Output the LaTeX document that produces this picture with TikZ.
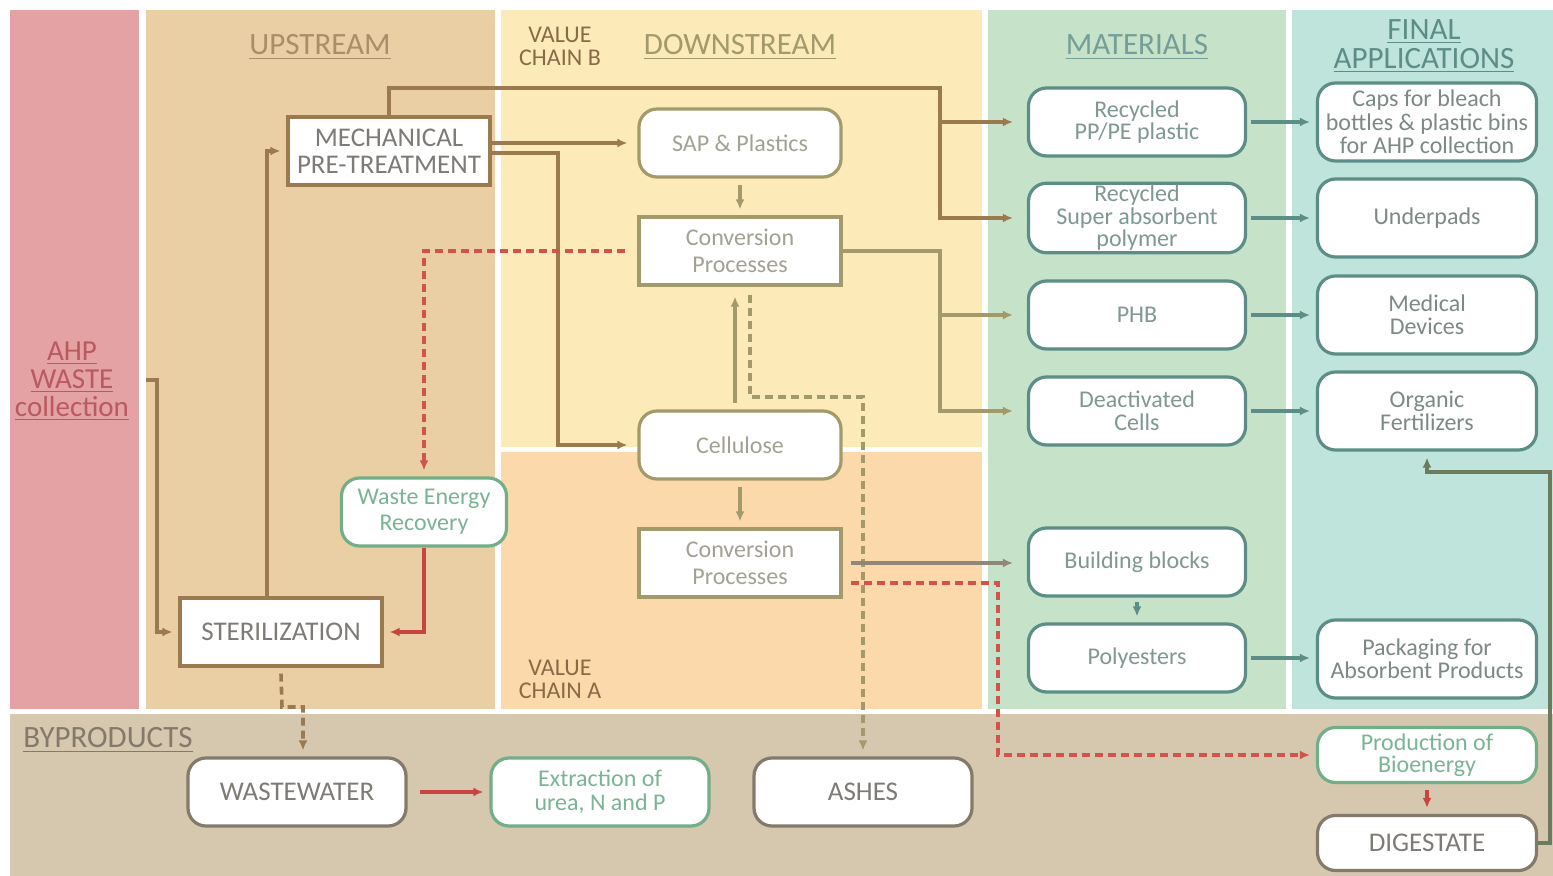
\documentclass[tikz,border=0pt]{standalone}
\usepackage{fontspec}
\setmainfont{Carlito}
\usetikzlibrary{arrows.meta}
\definecolor{ahpbg}{HTML}{E4A2A5}
\definecolor{upbg}{HTML}{E9CFA3}
\definecolor{vcbbg}{HTML}{FCEAB9}
\definecolor{vcabg}{HTML}{FBD9AA}
\definecolor{matbg}{HTML}{C6E3C9}
\definecolor{finbg}{HTML}{BFE4DC}
\definecolor{bybg}{HTML}{D6C7AF}
\definecolor{brownln}{HTML}{9B7A50}
\definecolor{oliveln}{HTML}{A39A6C}
\definecolor{tealln}{HTML}{5C8D86}
\definecolor{redln}{HTML}{C8453F}
\definecolor{reddsh}{HTML}{D2524C}
\definecolor{greyln}{HTML}{847A6B}
\definecolor{greenln}{HTML}{72AE88}
\definecolor{darkln}{HTML}{6C7A5E}
\definecolor{boxtxt}{HTML}{7E7A76}
\definecolor{downtxt}{HTML}{A3A193}
\definecolor{mattxt}{HTML}{7F9893}
\definecolor{fintxt}{HTML}{7D8986}
\definecolor{greentxt}{HTML}{79B495}
\definecolor{chaintxt}{HTML}{8A6A45}
\definecolor{ahptxt}{HTML}{B85A5E}
\newcommand{\linew}{1.8pt}
\newcommand{\capsfont}{\fontsize{13.5}{13.5}\selectfont}

\begin{document}
\begin{tikzpicture}[x=0.5pt, y=-0.5pt, >={Latex[length=5pt,width=4.5pt]},
  pbox/.style={draw, fill=white, line width=1.6pt, align=center, inner sep=1pt,
    font=\fontsize{12}{13}\selectfont},
  sqbox/.style={pbox, minimum width=101pt, minimum height=34pt},
  rbox/.style={pbox, rounded corners=9pt},
  matbox/.style={rbox, draw=tealln, text=mattxt, minimum width=108.5pt, minimum height=34pt},
  finbox/.style={rbox, draw=tealln, text=fintxt, minimum width=109.5pt, minimum height=39pt},
  greenbox/.style={rbox, draw=greenln, text=greentxt},
  title/.style={align=center, inner sep=0pt, font=\fontsize{15.5}{14.5}\selectfont},
  chain/.style={align=center, inner sep=0pt, text=chaintxt, font=\fontsize{12}{11.5}\selectfont},
  conn/.style={line width=\linew, ->, shorten >=3pt},
  dashln/.style={conn, dash pattern=on 4pt off 2.5pt}]
\useasboundingbox (0,0) rectangle (1553,876);
% bands
\fill[white] (0,0) rectangle (1553,876);
\fill[ahpbg] (10,10) rectangle (139,709);
\fill[upbg] (146,10) rectangle (495,709);
\fill[vcbbg] (501,10) rectangle (982,447);
\fill[vcabg] (501,452) rectangle (982,709);
\fill[matbg] (988,10) rectangle (1286,709);
\fill[finbg] (1292,10) rectangle (1553,709);
\fill[bybg] (10,714) rectangle (1553,876);

\node (tup) at (320,47) [title, text=brownln!85] {\underline{UPSTREAM}};
\node (tdown) at (740,47) [title, text=oliveln] {\underline{DOWNSTREAM}};
\node (tvcb) at (560,46) [chain] {VALUE\\CHAIN B};
\node (tvca) at (560,679) [chain] {VALUE\\CHAIN A};
\node (tmat) at (1137,47) [title, text=tealln!85] {\underline{MATERIALS}};
\node (tfin) at (1424,46) [title, text=tealln] {\underline{FINAL}\\\underline{APPLICATIONS}};
\node (tby) at (108,740) [title, text=greyln] {\underline{BYPRODUCTS}};
\node (ahp) at (72,381) [title, text=ahptxt, font=\fontsize{14.5}{14}\selectfont] {\underline{AHP}\\\underline{WASTE}\\\underline{collection}};

% upstream
\node (mech) at (389,151) [sqbox, draw=brownln, text=boxtxt, font=\capsfont] {MECHANICAL\\PRE-TREATMENT};
\node (steril) at (281,632) [sqbox, draw=brownln, text=boxtxt, font=\capsfont] {STERILIZATION};
\node (wer) at (424,512) [greenbox, minimum width=82.5pt, minimum height=34pt] {Waste Energy\\Recovery};

% downstream
\node (sap) at (740,143) [rbox, draw=oliveln, text=downtxt, minimum width=101pt, minimum height=34pt] {SAP \& Plastics};
\node (conv1) at (740,251) [sqbox, draw=oliveln, text=downtxt, font=\fontsize{12}{13.5}\selectfont] {Conversion\\Processes};
\node (cell) at (740,445) [rbox, draw=oliveln, text=downtxt, minimum width=101pt, minimum height=34pt] {Cellulose};
\node (conv2) at (740,563) [sqbox, draw=oliveln, text=downtxt, font=\fontsize{12}{13.5}\selectfont] {Conversion\\Processes};

% materials
\node (rpp) at (1137,122) [matbox, font=\fontsize{12}{11}\selectfont] {Recycled\\PP/PE plastic};
\node (rsap) at (1137,218) [matbox, font=\fontsize{12}{10.25}\selectfont] {Recycled\\Super absorbent\\polymer};
\node (phb) at (1137,315) [matbox] {PHB};
\node (deact) at (1137,411) [matbox, font=\fontsize{12}{11.5}\selectfont] {Deactivated\\Cells};
\node (bb) at (1137,562) [matbox] {Building blocks};
\node (poly) at (1137,658) [matbox] {Polyesters};

% final applications
\node (caps) at (1427,122) [finbox, font=\fontsize{12}{11.75}\selectfont] {Caps for bleach\\bottles \& plastic bins\\for AHP collection};
\node (under) at (1427,218) [finbox] {Underpads};
\node (med) at (1427,315) [finbox, font=\fontsize{12}{11.75}\selectfont] {Medical\\Devices};
\node (org) at (1427,411) [finbox, font=\fontsize{12}{11.75}\selectfont] {Organic\\Fertilizers};
\node (pack) at (1427,659) [finbox, font=\fontsize{12}{11.75}\selectfont] {Packaging for\\Absorbent Products};

% byproducts
\node (ww) at (297,792) [rbox, draw=greyln, text=boxtxt, font=\capsfont, minimum width=109pt, minimum height=34pt] {WASTEWATER};
\node (ext) at (600,792) [greenbox, minimum width=109pt, minimum height=34pt, font=\fontsize{12}{12}\selectfont] {Extraction of\\urea, N and P};
\node (ash) at (863,792) [rbox, draw=greyln, text=boxtxt, font=\capsfont, minimum width=109pt, minimum height=34pt] {ASHES};
\node (bio) at (1427,755) [greenbox, minimum width=109.5pt, minimum height=27.5pt, font=\fontsize{12}{11}\selectfont] {Production of\\Bioenergy};
\node (dig) at (1427,843) [rbox, draw=greyln, text=boxtxt, font=\capsfont, minimum width=109.5pt, minimum height=27.5pt] {DIGESTATE};

% flows
\coordinate (ahpout) at (146,380);
\draw[conn, brownln] (ahpout) -- (157,380) |- (steril.west);
\draw[conn, brownln] ([xshift=-7pt]steril.north) |- (mech.west);
\draw[conn, brownln, shorten >=7pt] (mech.north) |- (940,88) |- (rsap.west);
\draw[conn, brownln, shorten >=7pt] (940,122) -- (rpp.west);
\draw[conn, brownln, shorten >=5pt] (mech.east |- sap.west) -- (sap.west);
\draw[conn, brownln, shorten >=5pt] ([yshift=-1pt]mech.east) -- (558,153) |- (cell.west);
\draw[conn, oliveln, shorten <=3pt] (sap) -- (conv1);
\draw[conn, oliveln, shorten <=3pt, shorten >=5pt] ([xshift=-2.5pt]cell.north) -- ([xshift=-2.5pt]conv1.south);
\draw[conn, oliveln, shorten >=7pt] (conv1.east) -- (940,251) |- (deact.west);
\draw[conn, oliveln, shorten >=7pt] (940,315) -- (phb.west);
\draw[dashln, reddsh] ([xshift=-6pt]conv1.west) -| (wer.north);
\draw[conn, redln] (wer.south) |- (steril.east);
\draw[dashln, oliveln] ([shift={(5pt,-4pt)}]conv1.south) -- (750,397) -| (ash.north);
\draw[conn, oliveln, shorten <=3pt] (cell) -- (conv2);
\draw[conn, greyln!90, shorten >=7pt] ([xshift=4pt]conv2.east) -- (conv2.east -| bb.west);
\draw[dashln, reddsh] ([shift={(4pt,-10pt)}]conv2.east) -- (998,583) |- (bio.west);
\draw[conn, tealln, shorten <=2pt] (rpp) -- (caps);
\draw[conn, tealln, shorten <=2pt] (rsap) -- (under);
\draw[conn, tealln, shorten <=2pt] (phb) -- (med);
\draw[conn, tealln, shorten <=2pt] (deact) -- (org);
\draw[conn, tealln, shorten <=2pt] (poly.east) -- (poly.east -| pack.west);
\draw[conn, tealln, shorten <=2pt] (bb) -- (poly);
\draw[dashln, brownln] ([yshift=-3pt]steril.south) -- (282,707) -| ([xshift=3pt]ww.north);
\draw[conn, redln, shorten <=6pt] (ww) -- (ext);
\draw[conn, redln, shorten <=3pt] (bio) -- (dig);
\draw[conn, darkln] (dig.east) -| (1550,472) -| (org.south);
\end{tikzpicture}
\end{document}
